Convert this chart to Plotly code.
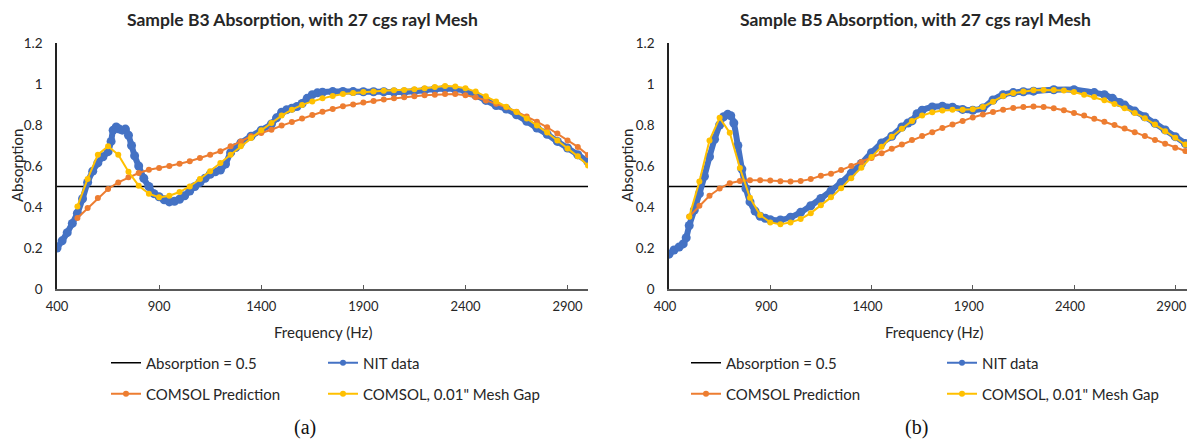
import plotly.graph_objects as go

# ---------------- data ----------------
FREQ_TICKS = [400, 900, 1400, 1900, 2400, 2900]
Y_TICKS = [0, 0.2, 0.4, 0.6, 0.8, 1.0, 1.2]
THRESH_X = [400, 3000]
THRESH_Y = [0.5, 0.5]

COMSOL_FREQ = [500, 550, 600, 650, 700, 750, 800, 850, 900, 950,
               1000, 1050, 1100, 1150, 1200, 1250, 1300, 1350, 1400, 1450,
               1500, 1550, 1600, 1650, 1700, 1750, 1800, 1850, 1900, 1950,
               2000, 2050, 2100, 2150, 2200, 2250, 2300, 2350, 2400, 2450,
               2500, 2550, 2600, 2650, 2700, 2750, 2800, 2850, 2900, 2950, 3000]

B3_COMSOL = [0.346, 0.395, 0.444, 0.488, 0.520, 0.545, 0.566, 0.582, 0.590, 0.600,
             0.611, 0.623, 0.639, 0.655, 0.672, 0.696, 0.720, 0.745, 0.761, 0.777,
             0.797, 0.815, 0.832, 0.849, 0.865, 0.878, 0.891, 0.900, 0.910, 0.917,
             0.924, 0.930, 0.935, 0.940, 0.945, 0.948, 0.951, 0.951, 0.945, 0.935,
             0.920, 0.904, 0.886, 0.865, 0.842, 0.816, 0.789, 0.758, 0.725, 0.693, 0.654]

B3_GAP = [0.403, 0.537, 0.655, 0.696, 0.655, 0.572, 0.504, 0.465, 0.447, 0.455,
          0.473, 0.500, 0.537, 0.574, 0.615, 0.655, 0.696, 0.737, 0.774, 0.810,
          0.846, 0.875, 0.898, 0.915, 0.930, 0.941, 0.951, 0.956, 0.961, 0.964,
          0.967, 0.969, 0.971, 0.974, 0.979, 0.985, 0.990, 0.988, 0.979, 0.963,
          0.940, 0.915, 0.889, 0.863, 0.832, 0.798, 0.763, 0.724, 0.685, 0.647, 0.602]

B3_NIT_FREQ = [400, 425, 450, 475, 500, 525, 550, 575, 600, 625, 650, 665, 675, 690,
               705, 720, 735, 750, 765, 780, 800, 825, 850, 875, 900, 925, 950, 975,
               1000, 1025, 1050, 1075, 1100, 1125, 1150, 1175, 1200, 1225, 1250, 1275,
               1300, 1350, 1400, 1450, 1475, 1500, 1525, 1550, 1575, 1600, 1625, 1650,
               1675, 1700, 1750, 1800, 1850, 1900, 1950, 2000, 2050, 2100, 2150, 2200,
               2250, 2300, 2350, 2400, 2450, 2500, 2550, 2600, 2650, 2700, 2750, 2800,
               2850, 2900, 2950, 3000]
B3_NIT = [0.200, 0.235, 0.275, 0.320, 0.370, 0.440, 0.520, 0.575, 0.615, 0.645, 0.670, 0.720, 0.775, 0.790,
          0.780, 0.775, 0.780, 0.750, 0.700, 0.650, 0.600, 0.540, 0.500, 0.465, 0.450, 0.435, 0.425, 0.428,
          0.438, 0.455, 0.478, 0.500, 0.520, 0.540, 0.560, 0.572, 0.580, 0.610, 0.665, 0.690,
          0.712, 0.745, 0.775, 0.805, 0.835, 0.862, 0.875, 0.882, 0.890, 0.905, 0.930, 0.948,
          0.957, 0.960, 0.963, 0.964, 0.963, 0.962, 0.962, 0.962, 0.961, 0.961, 0.965, 0.970,
          0.975, 0.978, 0.975, 0.965, 0.945, 0.920, 0.895, 0.878, 0.850, 0.818, 0.785, 0.755,
          0.720, 0.688, 0.655, 0.620]

B5_COMSOL = [0.354, 0.406, 0.455, 0.490, 0.516, 0.527, 0.531, 0.531, 0.529, 0.526,
             0.524, 0.527, 0.536, 0.552, 0.562, 0.580, 0.600, 0.620, 0.639, 0.662,
             0.684, 0.705, 0.727, 0.746, 0.765, 0.785, 0.803, 0.820, 0.837, 0.851,
             0.864, 0.875, 0.883, 0.888, 0.890, 0.888, 0.882, 0.872, 0.859, 0.846,
             0.830, 0.816, 0.800, 0.783, 0.765, 0.746, 0.727, 0.709, 0.689, 0.673, 0.657]

B5_GAP = [0.353, 0.524, 0.725, 0.835, 0.762, 0.590, 0.445, 0.361, 0.325, 0.316,
          0.325, 0.341, 0.370, 0.409, 0.447, 0.492, 0.540, 0.592, 0.644, 0.694,
          0.743, 0.782, 0.820, 0.846, 0.862, 0.871, 0.874, 0.874, 0.877, 0.888,
          0.914, 0.942, 0.956, 0.964, 0.969, 0.971, 0.971, 0.968, 0.961, 0.948,
          0.937, 0.921, 0.903, 0.882, 0.859, 0.833, 0.803, 0.770, 0.738, 0.705, 0.668]

B5_NIT_FREQ = [400, 425, 450, 470, 485, 500, 525, 550, 575, 600, 625, 650, 670, 690,
               705, 720, 740, 760, 780, 800, 825, 850, 875, 900, 950, 1000, 1050, 1100,
               1150, 1200, 1250, 1300, 1350, 1400, 1450, 1500, 1550, 1580, 1600, 1625,
               1650, 1700, 1750, 1800, 1850, 1900, 1950, 2000, 2050, 2100, 2150, 2200,
               2300, 2400, 2500, 2550, 2590, 2625, 2650, 2700, 2750, 2800, 2850, 2900,
               2950, 3000]
B5_NIT = [0.170, 0.190, 0.205, 0.220, 0.250, 0.310, 0.385, 0.465, 0.550, 0.645, 0.730, 0.800, 0.840, 0.852,
          0.845, 0.810, 0.700, 0.585, 0.490, 0.425, 0.380, 0.355, 0.345, 0.338, 0.337, 0.350, 0.374, 0.406,
          0.442, 0.479, 0.519, 0.565, 0.612, 0.665, 0.712, 0.745, 0.790, 0.810, 0.820, 0.855,
          0.872, 0.888, 0.892, 0.887, 0.876, 0.872, 0.883, 0.922, 0.948, 0.958, 0.962, 0.965,
          0.972, 0.972, 0.958, 0.948, 0.930, 0.910, 0.897, 0.868, 0.840, 0.808, 0.776, 0.743,
          0.710, 0.673]

TITLES = ["Sample B3 Absorption, with 27 cgs rayl Mesh",
          "Sample B5 Absorption, with 27 cgs rayl Mesh"]
CAPTIONS = ["(a)", "(b)"]
SERIES_NAMES = ["Absorption = 0.5", "NIT data", "COMSOL Prediction", 'COMSOL, 0.01" Mesh Gap']

# ---------------- styling / layout ----------------
OFF = 8                      # page body margin of the html page
VIEW_R = 1187                # right-most visible page pixel
W, H = VIEW_R - OFF, 440 - OFF
X0, Y0 = 57, 289             # target left of plot (a) and x-axis baseline (page pixels)
ML, MT = X0 - OFF, 43 - OFF
MB = H - (Y0 - OFF)
MR = 0
PW, PH = W - ML - MR, H - MT - MB
BLUE, ORANGE, YELLOW, BLACK = "#4472C4", "#ED7D31", "#FFC000", "#000000"
FONT = "Lato"
TXT = "#262626"

# panel (b) in the reference runs 400..3000 Hz over 669..1195 px but is cut at the window edge
B_RANGE_END = 400 + (VIEW_R - 669) / (1195.5 - 669) * 2600


def xp(px):
    return (px - OFF - ML) / PW


def yp(py):
    return (H - MB - (py - OFF)) / PH


panels = [
    dict(dom=[xp(57), xp(588)], rng=[400, 3000], shift=0, nit_f=B3_NIT_FREQ, nit=B3_NIT,
         com=B3_COMSOL, gap=B3_GAP, title_x=302, ytitle_x=17, xtitle_x=323, cap_x=305,
         leg_x=[146, 363]),
    dict(dom=[xp(669), 1.0], rng=[400, B_RANGE_END], shift=-4, nit_f=B5_NIT_FREQ, nit=B5_NIT,
         com=B5_COMSOL, gap=B5_GAP, title_x=915, ytitle_x=627, xtitle_x=934, cap_x=916,
         leg_x=[726, 982]),
]

fig = go.Figure()
annotations = []
legends = {}
leg_count = [0]


def leg_name():
    leg_count[0] += 1
    return "legend" if leg_count[0] == 1 else f"legend{leg_count[0]}"


for i, p in enumerate(panels):
    xa = "x" if i == 0 else "x2"
    ya = "y" if i == 0 else "y2"

    l_thr, l_nit, l_com, l_gap = leg_name(), leg_name(), leg_name(), leg_name()
    row1, row2 = 363, 394
    for ln, (tx, ty) in zip([l_thr, l_nit, l_com, l_gap],
                            [(p["leg_x"][0], row1), (p["leg_x"][1], row1),
                             (p["leg_x"][0], row2), (p["leg_x"][1], row2)]):
        legends[ln] = dict(x=xp(tx - 40), y=yp(ty), xanchor="left", yanchor="middle",
                           orientation="v", bgcolor="rgba(0,0,0,0)",
                           font=dict(family=FONT, size=15, color=TXT))

    fig.add_trace(go.Scatter(x=THRESH_X, y=THRESH_Y, mode="lines", name=SERIES_NAMES[0],
                             line=dict(color=BLACK, width=1.6), xaxis=xa, yaxis=ya,
                             legend=l_thr))
    fig.add_trace(go.Scatter(x=p["nit_f"], y=p["nit"], mode="lines+markers", name=SERIES_NAMES[1],
                             line=dict(color=BLUE, width=6, shape="spline", smoothing=0.6),
                             marker=dict(color=BLUE, size=9),
                             xaxis=xa, yaxis=ya, showlegend=False))
    fig.add_trace(go.Scatter(x=[None], y=[None], mode="lines+markers", name=SERIES_NAMES[1],
                             line=dict(color=BLUE, width=2), marker=dict(color=BLUE, size=6),
                             xaxis=xa, yaxis=ya, legend=l_nit))
    fig.add_trace(go.Scatter(x=COMSOL_FREQ, y=p["com"], mode="lines+markers", name=SERIES_NAMES[2],
                             line=dict(color=ORANGE, width=2), marker=dict(color=ORANGE, size=6),
                             xaxis=xa, yaxis=ya, legend=l_com))
    fig.add_trace(go.Scatter(x=COMSOL_FREQ, y=p["gap"], mode="lines+markers", name=SERIES_NAMES[3],
                             line=dict(color=YELLOW, width=2), marker=dict(color=YELLOW, size=6),
                             xaxis=xa, yaxis=ya, legend=l_gap))

    annotations += [
        dict(text=f"<b>{TITLES[i]}</b>", x=xp(p["title_x"]), y=yp(OFF), xref="paper", yref="paper",
             showarrow=False, xanchor="center", yanchor="top", borderpad=0,
             font=dict(family=FONT, size=17.5, color=TXT)),
        dict(text="Absorption", x=xp(p["ytitle_x"]), y=yp(166), xref="paper", yref="paper",
             showarrow=False, textangle=-90, xanchor="center", yanchor="middle",
             font=dict(family=FONT, size=15, color=TXT)),
        dict(text="Frequency (Hz)", x=xp(p["xtitle_x"]), y=yp(332), xref="paper", yref="paper",
             showarrow=False, xanchor="center", yanchor="middle",
             font=dict(family=FONT, size=15, color=TXT)),
        dict(text=CAPTIONS[i], x=xp(p["cap_x"]), y=yp(440), xref="paper", yref="paper",
             showarrow=False, xanchor="center", yanchor="bottom", borderpad=0,
             font=dict(family="Liberation Serif", size=20, color="#111")),
    ]

x_common = dict(showgrid=False, zeroline=False, showline=True, linecolor="#595959", linewidth=1.5,
                ticks="inside", ticklen=4, tickcolor="#595959", tickwidth=1.2,
                tickfont=dict(family=FONT, size=13, color=TXT), ticklabelstandoff=5,
                ticklabeloverflow="allow", tickvals=FREQ_TICKS)
y_common = dict(showgrid=False, zeroline=False, showline=True, linecolor="#222", linewidth=1.5,
                ticks="", tickfont=dict(family=FONT, size=13.5, color=TXT), ticklabelstandoff=10,
                range=[0, 1.2], tickvals=Y_TICKS, domain=[0, 1])

layout = dict(
    width=W, height=H,
    margin=dict(l=ML, r=MR, t=MT, b=MB, autoexpand=False),
    paper_bgcolor="white", plot_bgcolor="white",
    xaxis=dict(domain=panels[0]["dom"], range=panels[0]["rng"], anchor="y",
               ticklabelshift=panels[0]["shift"], **x_common),
    yaxis=dict(anchor="x", **y_common),
    xaxis2=dict(domain=panels[1]["dom"], range=panels[1]["rng"], anchor="y2",
                ticklabelshift=panels[1]["shift"], **x_common),
    yaxis2=dict(anchor="x2", **y_common),
    annotations=annotations,
)
layout.update(legends)
fig.update_layout(**layout)

fig.write_html("out.html")
